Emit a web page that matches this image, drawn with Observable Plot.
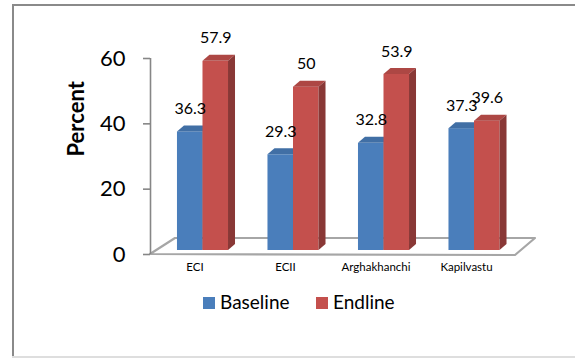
<!DOCTYPE html>
<html>
<head>
<meta charset="utf-8">
<script src="https://cdn.jsdelivr.net/npm/d3@7"></script>
<script src="https://cdn.jsdelivr.net/npm/@observablehq/plot@0.6"></script>
<style>
  html, body { margin: 0; padding: 0; background: #fff; }
  #chart { position: relative; width: 575px; height: 358px; overflow: hidden; font-family: Lato, "Open Sans", sans-serif; }
  #chart svg { position: absolute; left: 0; top: 0; }
  .edge { position: absolute; }
  .key { position: absolute; font-size: 19px; line-height: 20px; color: #000; white-space: nowrap; }
  .swatch { position: absolute; width: 12px; height: 12px; }
  g[aria-label="y-axis tick label"] { fill: #000; }
</style>
</head>
<body>
<div id="chart"></div>
<script>
// Share of respondents (%), by district, at baseline and endline
const categories = ["ECI", "ECII", "Arghakhanchi", "Kapilvastu"];
const baseline = [36.3, 29.3, 32.8, 37.3];
const endline = [57.9, 50, 53.9, 39.6];
const seriesNames = ["Baseline", "Endline"];
const seriesColors = ["#4A7EBB", "#C4504D"];
const yTicks = [0, 20, 40, 60];

// Column geometry (category units on x, pixels for the oblique depth)
const barWidth = 0.282;
const xMin = -0.58, xMax = 3.674;
const lift = -4;            // columns stand slightly behind the floor's front edge
const depth = [7, -6];      // oblique offset of the column's back faces

const rows = categories.flatMap((c, i) => [
  {category: c, series: seriesNames[0], value: baseline[i], x1: i - barWidth, x2: i},
  {category: c, series: seriesNames[1], value: endline[i], x1: i, x2: i + barWidth}
]);

// 3D floor under the columns
function floor(index, {x, y}) {
  const x0 = x(xMin), y0 = y(0), xr = x(xMax);
  const g = d3.create("svg:g").attr("aria-label", "floor");
  g.append("path")
    .attr("d", `M${x0},${y0}L${x0 + 25},${y0 - 16}L${xr},${y0 - 16}L${xr - 20},${y0 + 1}Z`)
    .attr("fill", "none")
    .attr("stroke", "#a6a6a6")
    .attr("stroke-width", 2.2)
    .attr("stroke-linejoin", "round");
  return g.node();
}

// Top and side faces of one series' columns
function faces(name) {
  return function (index, {x, y, color}) {
    const g = d3.create("svg:g").attr("aria-label", `${name} faces`);
    const [dx, dy] = depth;
    for (const d of rows.filter((r) => r.series === name)) {
      const a = x(d.x1), b = x(d.x2), top = y(d.value) + lift, base = y(0) + lift;
      const c = d3.color(color(d.series));
      g.append("path")
        .attr("d", `M${a},${top}L${b},${top}L${b + dx},${top + dy}L${a + dx},${top + dy}Z`)
        .attr("fill", c.darker(0.35).formatHex());
      g.append("path")
        .attr("d", `M${b},${base}L${b},${top}L${b + dx},${top + dy}L${b + dx},${base + dy}Z`)
        .attr("fill", c.darker(1.0).formatHex());
    }
    return g.node();
  };
}

const front = (name) => Plot.rect(rows.filter((r) => r.series === name), {
  x1: "x1", x2: "x2", y1: 0, y2: "value", fill: "series", dy: lift
});

const chart = Plot.plot({
  width: 575,
  height: 285,
  marginLeft: 150,
  marginRight: 40,
  marginTop: 58,
  marginBottom: 31,
  style: {fontFamily: "Lato, 'Open Sans', sans-serif", background: "transparent", color: "#000", overflow: "visible"},
  x: {domain: [xMin, xMax], axis: null},
  y: {domain: [0, 60]},
  color: {domain: seriesNames, range: seriesColors},
  marks: [
    floor,
    Plot.ruleX([xMin], {y1: 0, y2: 60, stroke: "#868686", strokeWidth: 1.6}),
    Plot.axisY(yTicks, {tickSize: 7, tickPadding: 18, fontSize: 22, stroke: "#868686", strokeWidth: 1.6, label: null}),
    Plot.text(["Percent"], {frameAnchor: "left", rotate: -90, dx: -74, fontSize: 22, fontWeight: "bold"}),
    front(seriesNames[0]),
    faces(seriesNames[0]),
    front(seriesNames[1]),
    faces(seriesNames[1]),
    Plot.text(rows, {x: (d) => (d.x1 + d.x2) / 2, y: "value", text: (d) => String(d.value), dy: -27, fontSize: 16}),
    Plot.text(categories, {x: (d, i) => i, frameAnchor: "bottom", dx: -8, dy: 16, fontSize: 11.5})
  ]
});

const root = document.getElementById("chart");

// Chart-area border
const edges = [
  {left: "12px", top: "4px", width: "2px", height: "354px", background: "#8a8a8a"},
  {left: "12px", top: "4px", width: "563px", height: "2px", background: "#8a8a8a"},
  {left: "12px", top: "356px", width: "563px", height: "2px", background: "#dedede"}
];
for (const e of edges) {
  const div = document.createElement("div");
  div.className = "edge";
  Object.assign(div.style, e);
  root.appendChild(div);
}

root.appendChild(chart);

// Legend below the plot, colours taken from the chart's colour scale
const colorScale = chart.scale("color");
const keyLeft = [203, 316];
colorScale.domain.forEach((name, i) => {
  const sw = document.createElement("div");
  sw.className = "swatch";
  sw.style.left = keyLeft[i] + "px";
  sw.style.top = "297px";
  sw.style.background = colorScale.range[i];
  root.appendChild(sw);
  const label = document.createElement("div");
  label.className = "key";
  label.style.left = (keyLeft[i] + 17) + "px";
  label.style.top = "292px";
  label.textContent = name;
  root.appendChild(label);
});
</script>
</body>
</html>
